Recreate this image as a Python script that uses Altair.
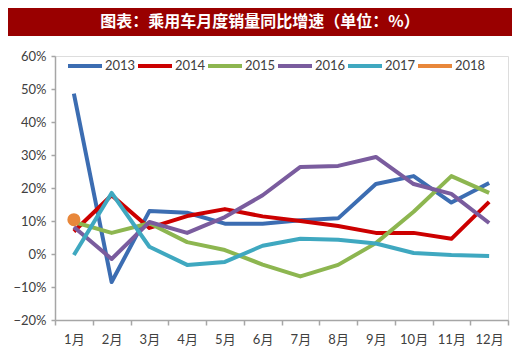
import altair as alt
import pandas as pd

months = ["1月", "2月", "3月", "4月", "5月", "6月", "7月", "8月", "9月", "10月", "11月", "12月"]
years = ["2013", "2014", "2015", "2016", "2017", "2018"]
colors = ["#3C6DB2", "#CC0000", "#8DB650", "#7A5C9E", "#3FA8C0", "#E8873A"]

v2013 = [48.6, -8.5, 13.0, 12.5, 9.2, 9.2, 10.2, 10.8, 21.2, 23.6, 15.6, 21.5]
v2014 = [6.8, 17.8, 7.9, 11.5, 13.6, 11.4, 10.0, 8.5, 6.4, 6.4, 4.6, 15.8]
v2015 = [9.7, 6.4, 9.3, 3.6, 1.2, -3.2, -6.8, -3.3, 3.3, 12.8, 23.6, 18.5]
v2016 = [8.2, -1.5, 9.7, 6.4, 11.2, 17.8, 26.4, 26.7, 29.4, 21.2, 18.2, 9.4]
v2017 = [-0.3, 18.5, 2.2, -3.3, -2.4, 2.5, 4.6, 4.3, 3.2, 0.3, -0.3, -0.6]
v2018 = [10.4]

series = {"2013": v2013, "2014": v2014, "2015": v2015, "2016": v2016, "2017": v2017, "2018": v2018}
rows = []
for y, vals in series.items():
    for i, v in enumerate(vals):
        rows.append({"month": months[i], "year": y, "value": v / 100.0})
df = pd.DataFrame(rows)

title_text = "图表：乘用车月度销量同比增速（单位：%）"

FONT = "Lato, Noto Sans CJK SC, sans-serif"

color_scale = alt.Scale(domain=years, range=colors)

x_enc = alt.X("month:N", sort=months, bandPosition=0.5,
              scale=alt.Scale(type="band", paddingInner=0, paddingOuter=0),
              axis=alt.Axis(title=None, labelAngle=0, tickBand="extent",
                            labelFontSize=13, labelColor="#404040", labelFont=FONT,
                            domainColor="#A6A6A6", tickColor="#A6A6A6", domainWidth=1.5,
                            tickWidth=1.5, tickSize=5, labelPadding=8, grid=False))
y_enc = alt.Y("value:Q", scale=alt.Scale(domain=[-0.2, 0.6], nice=False),
              axis=alt.Axis(title=None, format=".0%", values=[-0.2, -0.1, 0, 0.1, 0.2, 0.3, 0.4, 0.5, 0.6],
                            labelFontSize=13, labelColor="#404040", labelFont=FONT,
                            domainColor="#A6A6A6", tickColor="#A6A6A6", domainWidth=1.5,
                            tickWidth=1.5, tickSize=4, labelPadding=5, grid=False))

lines = alt.Chart(df).mark_line(strokeWidth=4, strokeJoin="round").encode(
    x=x_enc, y=y_enc,
    color=alt.Color("year:N", scale=color_scale,
                    legend=alt.Legend(title=None, orient="none", direction="horizontal",
                                      legendX=11, legendY=-9, symbolType="stroke",
                                      symbolSize=1156, symbolStrokeWidth=4,
                                      labelFontSize=13, labelColor="#404040", labelFont=FONT,
                                      labelOffset=1, columnPadding=-6)),
    detail="year:N",
)

pt = alt.Chart(df[df["year"] == "2018"]).mark_circle(size=170, opacity=1).encode(
    x=x_enc, y=y_enc,
    color=alt.Color("year:N", scale=color_scale, legend=None),
)

bar_df = pd.DataFrame({"t": [title_text]})
bar = alt.Chart(bar_df).mark_rect(color="#990000").encode(
    x=alt.value(-47), x2=alt.value(457), y=alt.value(-48), y2=alt.value(-20)
)
title = alt.Chart(bar_df).mark_text(color="white", fontSize=16, fontWeight="bold",
                                    font="Noto Sans CJK SC", baseline="middle", align="center").encode(
    x=alt.value(205), y=alt.value(-34), text="t:N"
)

chart = alt.layer(bar, title, lines, pt).properties(
    width=453, height=264,
    autosize=alt.AutoSizeParams(type="none"),
    padding={"left": 47, "top": 48, "right": 4, "bottom": 27},
).configure_view(stroke=None).configure(background="white")

chart.save("out.html", embed_options={"renderer": "svg", "actions": False})
